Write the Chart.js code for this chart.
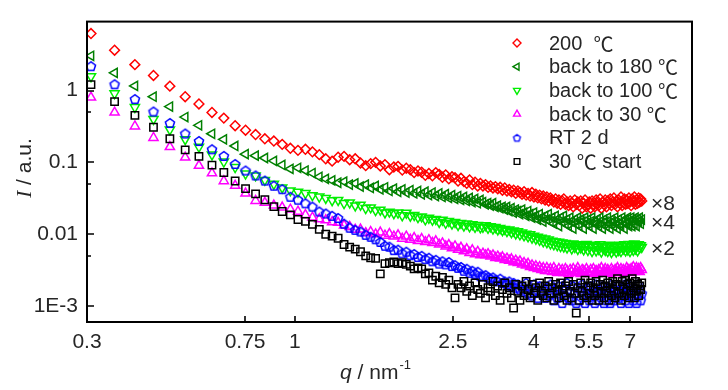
<!DOCTYPE html>
<html>
<head>
<meta charset="utf-8">
<script src="https://cdn.jsdelivr.net/npm/chart.js@4/dist/chart.umd.min.js"></script>
<style>
  body { margin: 0; background: #fff; }
  canvas { display: block; }
</style>
</head>
<body>
<canvas id="chart" width="728" height="390"></canvas>
<script>
// q grid (nm^-1), shared by all six curves
const q = [
  0.307, 0.352, 0.396, 0.441, 0.485, 0.530, 0.574, 0.619, 0.663, 0.708,
  0.752, 0.797, 0.841, 0.886, 0.930, 0.975, 1.019, 1.064, 1.108, 1.153,
  1.197, 1.242, 1.286, 1.331, 1.375, 1.420, 1.464, 1.509, 1.553, 1.598,
  1.642, 1.687, 1.731, 1.776, 1.820, 1.865, 1.909, 1.954, 1.998, 2.043,
  2.087, 2.132, 2.176, 2.221, 2.265, 2.310, 2.354, 2.399, 2.443, 2.488,
  2.532, 2.577, 2.621, 2.666, 2.710, 2.755, 2.799, 2.844, 2.888, 2.933,
  2.977, 3.022, 3.066, 3.111, 3.155, 3.200, 3.244, 3.289, 3.333, 3.378,
  3.422, 3.467, 3.511, 3.556, 3.600, 3.645, 3.689, 3.734, 3.778, 3.823,
  3.867, 3.912, 3.956, 4.001, 4.045, 4.090, 4.134, 4.179, 4.223, 4.268,
  4.312, 4.357, 4.401, 4.446, 4.490, 4.535, 4.579, 4.624, 4.668, 4.713,
  4.757, 4.802, 4.846, 4.891, 4.935, 4.980, 5.024, 5.069, 5.113, 5.158,
  5.202, 5.247, 5.291, 5.336, 5.380, 5.425, 5.469, 5.514, 5.558, 5.603,
  5.647, 5.692, 5.736, 5.781, 5.825, 5.870, 5.914, 5.959, 6.003, 6.048,
  6.092, 6.137, 6.181, 6.226, 6.270, 6.315, 6.359, 6.404, 6.448, 6.493,
  6.537, 6.582, 6.626, 6.671, 6.715, 6.760, 6.804, 6.849, 6.893, 6.938,
  6.982, 7.027, 7.071, 7.116, 7.160, 7.205, 7.249, 7.294, 7.338, 7.383,
  7.427, 7.472
];

// 200 C (x8)
const i200 = [
  6.2, 3.64, 2.29, 1.62, 1.15, 0.82, 0.65, 0.495, 0.413, 0.324,
  0.28, 0.244, 0.213, 0.198, 0.178, 0.157, 0.147, 0.152, 0.14, 0.128,
  0.112, 0.104, 0.118, 0.121, 0.109, 0.112, 0.098, 0.090, 0.096, 0.100,
  0.089, 0.093, 0.079, 0.086, 0.088, 0.078, 0.083, 0.079, 0.072, 0.076,
  0.073, 0.066, 0.070, 0.065, 0.072, 0.068, 0.062, 0.067, 0.059, 0.063,
  0.061, 0.055, 0.060, 0.054, 0.051, 0.057, 0.049, 0.053, 0.047, 0.051,
  0.047, 0.049, 0.045, 0.047, 0.044, 0.046, 0.043, 0.045, 0.041, 0.044,
  0.040, 0.042, 0.039, 0.041, 0.037, 0.040, 0.038, 0.036, 0.039, 0.035,
  0.037, 0.034, 0.038, 0.033, 0.036, 0.032, 0.035, 0.031, 0.034, 0.030,
  0.033, 0.029, 0.032, 0.030, 0.028, 0.031, 0.027, 0.030, 0.026, 0.029,
  0.031, 0.026, 0.028, 0.025, 0.029, 0.027, 0.024, 0.030, 0.026, 0.028,
  0.025, 0.029, 0.023, 0.027, 0.030, 0.024, 0.026, 0.028, 0.023, 0.029,
  0.026, 0.024, 0.030, 0.027, 0.025, 0.031, 0.023, 0.028, 0.026, 0.030,
  0.024, 0.029, 0.027, 0.031, 0.025, 0.028, 0.032, 0.026, 0.029, 0.024,
  0.030, 0.027, 0.033, 0.025, 0.028, 0.031, 0.026, 0.030, 0.027, 0.032,
  0.028, 0.025, 0.031, 0.029, 0.033, 0.026, 0.030, 0.027, 0.032, 0.028,
  0.031, 0.029
];

// back to 180 C (x4)
const i180 = [
  3.04, 1.76, 1.16, 0.82, 0.598, 0.427, 0.328, 0.25, 0.209, 0.169,
  0.13, 0.124, 0.115, 0.105, 0.092, 0.081, 0.084, 0.077, 0.071, 0.063,
  0.059, 0.056, 0.052, 0.054, 0.049, 0.051, 0.046, 0.049, 0.044, 0.047,
  0.042, 0.045, 0.040, 0.043, 0.039, 0.042, 0.038, 0.041, 0.037, 0.040,
  0.036, 0.039, 0.035, 0.038, 0.034, 0.037, 0.033, 0.036, 0.032, 0.035,
  0.031, 0.034, 0.030, 0.033, 0.029, 0.032, 0.028, 0.031, 0.027, 0.030,
  0.028, 0.026, 0.027, 0.025, 0.027, 0.024, 0.025, 0.023, 0.024, 0.022,
  0.024, 0.021, 0.023, 0.020, 0.022, 0.021, 0.019, 0.022, 0.020, 0.018,
  0.021, 0.019, 0.017, 0.020, 0.018, 0.016, 0.019, 0.017, 0.015, 0.018,
  0.016, 0.019, 0.015, 0.017, 0.014, 0.018, 0.016, 0.013, 0.017, 0.015,
  0.018, 0.014, 0.016, 0.013, 0.017, 0.015, 0.012, 0.016, 0.014, 0.017,
  0.013, 0.016, 0.015, 0.012, 0.017, 0.014, 0.016, 0.013, 0.015, 0.017,
  0.012, 0.015, 0.014, 0.016, 0.013, 0.017, 0.014, 0.012, 0.016, 0.015,
  0.013, 0.017, 0.014, 0.012, 0.016, 0.015, 0.013, 0.017, 0.014, 0.012,
  0.016, 0.014, 0.013, 0.017, 0.015, 0.012, 0.016, 0.014, 0.017, 0.013,
  0.015, 0.017, 0.013, 0.016, 0.014, 0.017, 0.013, 0.016, 0.015, 0.017,
  0.014, 0.016
];

// back to 100 C (x2)
const i100 = [
  1.57, 0.91, 0.585, 0.40, 0.286, 0.209, 0.164, 0.128, 0.102, 0.0855,
  0.0695, 0.0655, 0.0567, 0.050, 0.0445, 0.0405, 0.0388, 0.0372, 0.0348, 0.0332,
  0.0318, 0.0296, 0.0298, 0.0270, 0.0275, 0.0250, 0.0256, 0.0230, 0.0235, 0.0215,
  0.0218, 0.0200, 0.0205, 0.0195, 0.0199, 0.0182, 0.0198, 0.0180, 0.0184, 0.0172,
  0.0176, 0.0160, 0.0168, 0.0158, 0.0162, 0.0147, 0.0158, 0.0143, 0.0152, 0.0140,
  0.0147, 0.0134, 0.0143, 0.0131, 0.0140, 0.0128, 0.0137, 0.0126, 0.0134, 0.0124,
  0.0126, 0.0133, 0.0122, 0.0128, 0.0119, 0.0125, 0.0116, 0.0121, 0.0113, 0.0118,
  0.0110, 0.0116, 0.0106, 0.0112, 0.0102, 0.0109, 0.0099, 0.0105, 0.0096, 0.0101,
  0.0093, 0.0099, 0.0089, 0.0095, 0.0086, 0.0092, 0.0083, 0.0089, 0.0079, 0.0087,
  0.0077, 0.0084, 0.0074, 0.0081, 0.0072, 0.0079, 0.0070, 0.0078, 0.0068, 0.0076,
  0.0067, 0.0075, 0.0065, 0.0073, 0.0069, 0.0063, 0.0074, 0.0066, 0.0071, 0.0062,
  0.0072, 0.0065, 0.0070, 0.0061, 0.0068, 0.0073, 0.0060, 0.0067, 0.0071, 0.0058,
  0.0066, 0.0070, 0.0059, 0.0068, 0.0062, 0.0072, 0.0057, 0.0065, 0.0069, 0.0060,
  0.0067, 0.0058, 0.0071, 0.0063, 0.0056, 0.0068, 0.0061, 0.0070, 0.0057, 0.0066,
  0.0060, 0.0071, 0.0058, 0.0067, 0.0063, 0.0072, 0.0059, 0.0069, 0.0061, 0.0073,
  0.0058, 0.0067, 0.0071, 0.0060, 0.0074, 0.0063, 0.0068, 0.0059, 0.0072, 0.0065,
  0.0070, 0.0066
];

// back to 30 C
const i30 = [
  0.80, 0.495, 0.318, 0.22, 0.164, 0.117, 0.090, 0.0707, 0.055, 0.0475,
  0.037, 0.0292, 0.0275, 0.0252, 0.0236, 0.0221, 0.0207, 0.0186, 0.0171, 0.0162,
  0.0157, 0.0148, 0.0145, 0.0133, 0.0127, 0.0116, 0.0117, 0.0104, 0.0108, 0.0100,
  0.0106, 0.0096, 0.0101, 0.0093, 0.0097, 0.0087, 0.0093, 0.0084, 0.0089, 0.0081,
  0.0086, 0.0078, 0.0083, 0.0076, 0.0080, 0.0072, 0.0075, 0.0068, 0.0071, 0.0064,
  0.0068, 0.0061, 0.0065, 0.0058, 0.0062, 0.0055, 0.0060, 0.0053, 0.0057, 0.0051,
  0.0054, 0.0051, 0.0053, 0.0049, 0.0051, 0.0047, 0.0049, 0.0046, 0.0048, 0.0044,
  0.0046, 0.0043, 0.0045, 0.0041, 0.0043, 0.0040, 0.0042, 0.0038, 0.0040, 0.0037,
  0.0039, 0.0035, 0.0037, 0.0034, 0.0036, 0.0033, 0.0035, 0.0032, 0.0034, 0.0031,
  0.0034, 0.0031, 0.0033, 0.0030, 0.0034, 0.0031, 0.0029, 0.0033, 0.0030, 0.0032,
  0.0029, 0.0033, 0.0031, 0.0028, 0.0032, 0.0030, 0.0033, 0.0029, 0.0031, 0.0034,
  0.0030, 0.0028, 0.0032, 0.0031, 0.0029, 0.0033, 0.0030, 0.0028, 0.0032, 0.0030,
  0.0033, 0.0029, 0.0031, 0.0028, 0.0032, 0.0030, 0.0034, 0.0029, 0.0031, 0.0033,
  0.0029, 0.0032, 0.0030, 0.0028, 0.0033, 0.0031, 0.0029, 0.0032, 0.0030, 0.0034,
  0.0031, 0.0029, 0.0033, 0.0030, 0.0032, 0.0028, 0.0031, 0.0034, 0.0030, 0.0032,
  0.0029, 0.0033, 0.0031, 0.0035, 0.0030, 0.0032, 0.0034, 0.0031, 0.0033, 0.0030,
  0.0034, 0.0032
];

// RT 2 d
const rt2d = [
  2.18, 1.22, 0.76, 0.51, 0.353, 0.252, 0.198, 0.152, 0.123, 0.0948,
  0.0769, 0.0657, 0.0558, 0.0473, 0.0423, 0.0332, 0.0302, 0.0269, 0.0242, 0.0207,
  0.0194, 0.0180, 0.0168, 0.0140, 0.0123, 0.0115, 0.0109, 0.0098, 0.0092, 0.0085,
  0.0078, 0.0069, 0.0067, 0.0060, 0.0061, 0.0054, 0.0057, 0.0051, 0.0053, 0.0048,
  0.0050, 0.0045, 0.0047, 0.0042, 0.0044, 0.0039, 0.0042, 0.0038, 0.0041, 0.0036,
  0.0037, 0.0034, 0.0035, 0.0031, 0.0033, 0.0029, 0.0031, 0.0028, 0.0030, 0.0026,
  0.0026, 0.0027, 0.0025, 0.0024, 0.0025, 0.0023, 0.0022, 0.0024, 0.0021, 0.0022,
  0.0020, 0.0022, 0.0019, 0.0021, 0.0018, 0.0020, 0.0017, 0.0019, 0.0016, 0.0021,
  0.0015, 0.0018, 0.0014, 0.0020, 0.0016, 0.0013, 0.0019, 0.0015, 0.0017, 0.0013,
  0.0018, 0.0014, 0.0020, 0.0015, 0.0012, 0.0017, 0.0013, 0.0019, 0.0015, 0.0011,
  0.0018, 0.0014, 0.0021, 0.0013, 0.0016, 0.0012, 0.0019, 0.0015, 0.0011, 0.0018,
  0.0012, 0.0016, 0.0020, 0.0014, 0.0011, 0.0018, 0.0015, 0.0012, 0.0019, 0.0014,
  0.0016, 0.0011, 0.0020, 0.0015, 0.0012, 0.0017, 0.0014, 0.0019, 0.0011, 0.0016,
  0.0012, 0.0018, 0.0015, 0.0011, 0.0020, 0.0014, 0.0012, 0.0017, 0.0015, 0.0019,
  0.0013, 0.0016, 0.0011, 0.0018, 0.0014, 0.0020, 0.0012, 0.0015, 0.0017, 0.0011,
  0.0019, 0.0014, 0.0016, 0.0012, 0.0018, 0.0015, 0.0011, 0.0020, 0.0014, 0.0017,
  0.0012, 0.0015
];

// 30 C start
const start30 = [
  1.21, 0.70, 0.45, 0.308, 0.213, 0.149, 0.121, 0.0916, 0.0722, 0.055,
  0.0431, 0.0365, 0.0302, 0.0242, 0.0207, 0.0186, 0.016, 0.0151, 0.0137, 0.0117,
  0.010, 0.0094, 0.0088, 0.0072, 0.0066, 0.0062, 0.0057, 0.0050, 0.0047, 0.0046,
  0.0028, 0.0039, 0.0040, 0.0041, 0.0039, 0.0040, 0.0038, 0.0036, 0.0033, 0.0034,
  0.0033, 0.0028, 0.0029, 0.0023, 0.0026, 0.0021, 0.0025, 0.0020, 0.0023, 0.0018,
  0.0013, 0.0020, 0.0018, 0.0022, 0.0016, 0.0019, 0.0014, 0.0021, 0.0017, 0.0015,
  0.0020, 0.0013, 0.0018, 0.0016, 0.0022, 0.0014, 0.0019, 0.0012, 0.0017, 0.0021,
  0.0015, 0.0018, 0.0013, 0.00094, 0.0020, 0.0016, 0.0012, 0.0019, 0.0014, 0.0022,
  0.0017, 0.0013, 0.0020, 0.0015, 0.0018, 0.0012, 0.0021, 0.0016, 0.0014, 0.0019,
  0.0013, 0.0022, 0.0015, 0.0018, 0.0012, 0.0020, 0.0016, 0.0013, 0.0021, 0.0017,
  0.0014, 0.0019, 0.0012, 0.0022, 0.0016, 0.0013, 0.0020, 0.0015, 0.00080, 0.0018,
  0.0012, 0.0021, 0.0016, 0.0014, 0.0023, 0.0013, 0.0019, 0.0015, 0.0021, 0.0012,
  0.0018, 0.0014, 0.0022, 0.0016, 0.0012, 0.0020, 0.0015, 0.0023, 0.0013, 0.0019,
  0.0016, 0.0021, 0.0012, 0.0018, 0.0014, 0.0022, 0.0016, 0.0013, 0.0020, 0.0024,
  0.0015, 0.0019, 0.0012, 0.0022, 0.0017, 0.0014, 0.0023, 0.0016, 0.0020, 0.0013,
  0.0021, 0.0015, 0.0024, 0.0018, 0.0013, 0.0022, 0.0016, 0.0020, 0.0014, 0.0019,
  0.0017, 0.0021
];

const seriesNames = ['200  ℃', 'back to 180 ℃', 'back to 100 ℃', 'back to 30 ℃', 'RT 2 d', '30 ℃ start'];
const xTickVals = [0.3, 0.75, 1, 2.5, 4, 5.5, 7];
const yTickVals = [0.001, 0.01, 0.1, 1];
const yTickText = ['1E-3', '0.01', '0.1', '1'];
const yMinorVals = [0.005, 0.05, 0.5];
const factorText = ['×8', '×4', '×2'];
const factorLevel = [0.027, 0.0145, 0.0064]; // where the scale-factor notes sit

const SANS = '"Liberation Sans", Arial, sans-serif';
const CJK = '"Noto Sans CJK SC", "Noto Sans CJK JP", sans-serif';
const INK = '#262626';

function pentagon(r, color, lw) {
  const c = document.createElement('canvas');
  const s = Math.ceil(2 * r + lw + 2);
  c.width = s;
  c.height = s;
  const g = c.getContext('2d');
  g.strokeStyle = color;
  g.lineWidth = lw;
  g.beginPath();
  for (let k = 0; k < 5; k++) {
    const a = -Math.PI / 2 + k * 2 * Math.PI / 5;
    const px = s / 2 + r * Math.cos(a), py = s / 2 + r * Math.sin(a) + 0.4;
    if (k) g.lineTo(px, py); else g.moveTo(px, py);
  }
  g.closePath();
  g.stroke();
  return c;
}

const penBig = pentagon(4.8, '#0000ff', 1.5);
const penSmall = pentagon(3.6, '#0000ff', 1.3);

const styles = [
  { color: '#ff0000', style: 'rectRot', r: 4.9, rot: 0 },
  { color: '#008000', style: 'triangle', r: 5.3, rot: -90 },
  { color: '#00ee00', style: 'triangle', r: 5.3, rot: 180 },
  { color: '#ff00ff', style: 'triangle', r: 5.3, rot: 0 },
  { color: '#0000ff', style: penBig, r: 4.8, rot: 0 },
  { color: '#000000', style: 'rect', r: 5.2, rot: 0 }
];

const allSeries = [i200, i180, i100, i30, rt2d, start30];

function toPoints(vals) {
  return vals.map((v, k) => ({ x: q[k], y: v }));
}

// legend marker drawn by hand so it can sit inside the frame like the original
function drawMark(ctx, k, x, y, r) {
  const s = styles[k];
  ctx.save();
  ctx.strokeStyle = s.color;
  ctx.lineWidth = 1.4;
  if (typeof s.style !== 'string') {
    ctx.drawImage(penSmall, x - penSmall.width / 2, y - penSmall.height / 2);
    ctx.restore();
    return;
  }
  ctx.beginPath();
  if (s.style === 'rectRot') {
    ctx.moveTo(x - r, y); ctx.lineTo(x, y - r); ctx.lineTo(x + r, y); ctx.lineTo(x, y + r);
  } else if (s.style === 'rect') {
    const h = r * Math.SQRT1_2;
    ctx.rect(x - h, y - h, 2 * h, 2 * h);
  } else {
    let a = s.rot * Math.PI / 180;
    for (let j = 0; j < 3; j++) {
      const px = x + Math.sin(a) * r, py = y - Math.cos(a) * r;
      if (j) ctx.lineTo(px, py); else ctx.moveTo(px, py);
      a += 2 * Math.PI / 3;
    }
  }
  ctx.closePath();
  ctx.stroke();
  ctx.restore();
}

// text where the degree sign comes from the CJK face, like the original
function mixedText(ctx, str, x, y, size) {
  const parts = str.split('℃');
  let cx = x;
  parts.forEach((p, k) => {
    ctx.font = size + 'px ' + SANS;
    ctx.fillText(p, cx, y);
    cx += ctx.measureText(p).width;
    if (k < parts.length - 1) {
      ctx.font = size + 'px ' + CJK;
      ctx.fillText('℃', cx, y);
      cx += ctx.measureText('℃').width;
    }
  });
}

const decor = {
  id: 'decor',
  afterDraw(chart) {
    const { ctx, chartArea: a } = chart;
    const xs = chart.scales.x, ys = chart.scales.y;
    ctx.save();

    // frame and inward ticks
    ctx.strokeStyle = '#000';
    ctx.lineWidth = 2;
    ctx.strokeRect(a.left, a.top, a.right - a.left, a.bottom - a.top);
    ctx.lineWidth = 1.6;
    ctx.beginPath();
    xTickVals.forEach(v => {
      const px = Math.round(xs.getPixelForValue(v));
      ctx.moveTo(px, a.bottom);
      ctx.lineTo(px, a.bottom - 6);
    });
    yTickVals.forEach(v => {
      const py = Math.round(ys.getPixelForValue(v));
      ctx.moveTo(a.left, py);
      ctx.lineTo(a.left + 7, py);
    });
    yMinorVals.forEach(v => {
      const py = Math.round(ys.getPixelForValue(v));
      ctx.moveTo(a.left, py);
      ctx.lineTo(a.left + 4, py);
    });
    ctx.stroke();

    // legend
    ctx.fillStyle = INK;
    ctx.textBaseline = 'middle';
    ctx.textAlign = 'left';
    seriesNames.forEach((name, k) => {
      const ly = 43 + k * 23.7;
      drawMark(ctx, k, 517, ly, 4);
      mixedText(ctx, name, 549, ly + 1, 20);
    });

    // scale factors
    ctx.font = '21px ' + SANS;
    factorText.forEach((t, k) => {
      ctx.fillText(t, 651, ys.getPixelForValue(factorLevel[k]) + 1);
    });

    // y title: I / a.u.
    ctx.save();
    ctx.translate(31, 168);
    ctx.rotate(-Math.PI / 2);
    ctx.textBaseline = 'alphabetic';
    const f1 = 'italic 21px "Liberation Serif", "Times New Roman", serif';
    const f2 = '21px ' + SANS;
    ctx.font = f1;
    const w1 = ctx.measureText('I').width;
    ctx.font = f2;
    const w2 = ctx.measureText(' / a.u.').width;
    const sx = -(w1 + w2) / 2;
    ctx.font = f1;
    ctx.fillText('I', sx, 0);
    ctx.font = f2;
    ctx.fillText(' / a.u.', sx + w1, 0);
    ctx.restore();

    // x title: q / nm^-1
    const g1 = 'italic 21px ' + SANS;
    const g3 = '13px ' + SANS;
    ctx.textBaseline = 'alphabetic';
    ctx.font = g1;
    const v1 = ctx.measureText('q').width;
    ctx.font = f2;
    const v2 = ctx.measureText(' / nm').width;
    ctx.font = g3;
    const v3 = ctx.measureText('-1').width;
    const tx = 375 - (v1 + v2 + v3) / 2;
    const by = 379;
    ctx.font = g1;
    ctx.fillText('q', tx, by);
    ctx.font = f2;
    ctx.fillText(' / nm', tx + v1, by);
    ctx.font = g3;
    ctx.fillText('-1', tx + v1 + v2 + 1, by - 10);

    ctx.restore();
  }
};

const datasets = allSeries.map((vals, k) => ({
  label: seriesNames[k],
  data: toPoints(vals),
  showLine: false,
  pointStyle: styles[k].style,
  pointRadius: styles[k].r,
  pointRotation: styles[k].rot,
  pointBorderColor: styles[k].color,
  pointBackgroundColor: 'rgba(0,0,0,0)',
  pointBorderWidth: 1.5,
  order: allSeries.length - k
}));

const chart = new Chart(document.getElementById('chart').getContext('2d'), {
  type: 'scatter',
  data: { datasets: datasets },
  options: {
    responsive: false,
    animation: false,
    events: [],
    layout: { padding: { top: 17, right: 36, left: 0, bottom: 0 } },
    plugins: {
      legend: { display: false },
      tooltip: { enabled: false }
    },
    scales: {
      x: {
        type: 'logarithmic',
        min: 0.3,
        max: 10,
        afterFit(s) { s.height = 68; },
        afterBuildTicks(s) { s.ticks = xTickVals.map(v => ({ value: v })); },
        ticks: {
          autoSkip: false,
          maxRotation: 0,
          padding: 8,
          color: INK,
          font: { family: SANS, size: 21 },
          callback: (v) => String(v)
        },
        grid: { display: false, drawTicks: false },
        border: { display: false }
      },
      y: {
        type: 'logarithmic',
        min: 0.0006,
        max: 9.1,
        afterFit(s) { s.width = 87; },
        afterBuildTicks(s) { s.ticks = yTickVals.map(v => ({ value: v })); },
        ticks: {
          autoSkip: false,
          padding: 9,
          color: INK,
          font: { family: SANS, size: 21 },
          callback: (v, i) => yTickText[i]
        },
        grid: { display: false, drawTicks: false },
        border: { display: false }
      }
    }
  },
  plugins: [decor]
});
</script>
</body>
</html>
